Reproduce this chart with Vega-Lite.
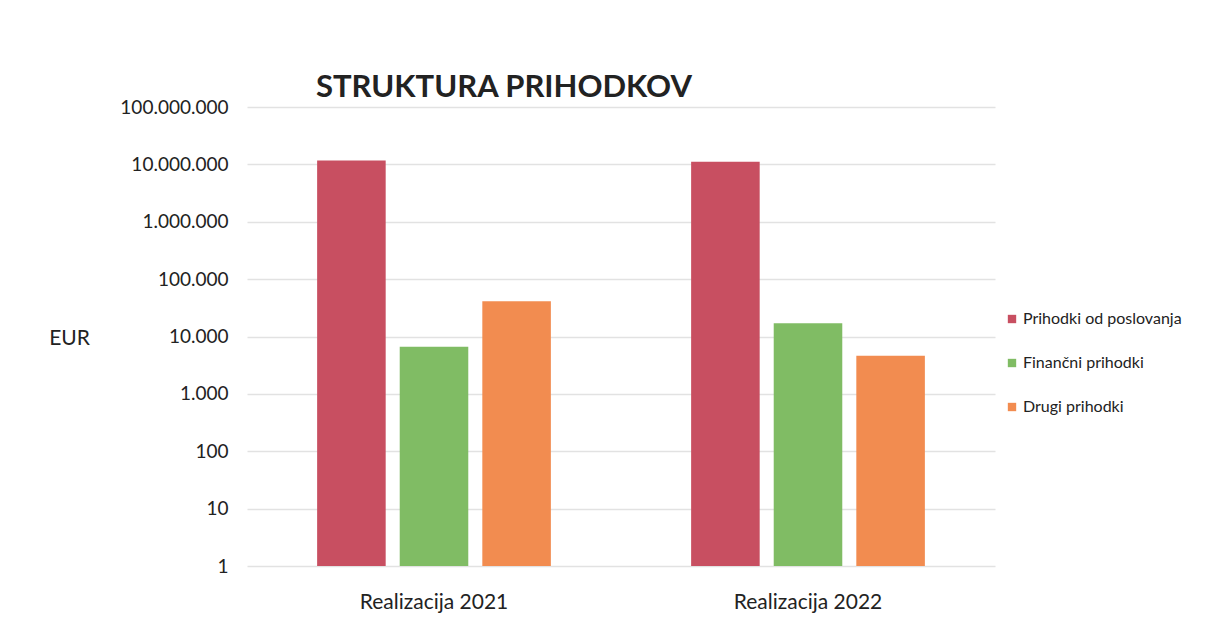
{
  "$schema": "https://vega.github.io/schema/vega-lite/v6.json",
  "autosize": "none",
  "width": 748,
  "height": 459,
  "padding": {"left": 247, "top": 107, "right": 228, "bottom": 56},
  "background": "white",
  "config": {
    "locale": {"number": {"decimal": ",", "thousands": ".", "grouping": [3], "currency": ["", " €"]}},
    "view": {"stroke": null},
    "font": "Lato"
  },
  "title": {
    "text": "STRUKTURA PRIHODKOV",
    "anchor": "start",
    "frame": "group",
    "dx": 69,
    "dy": 12,
    "fontSize": 31,
    "fontWeight": "bold",
    "font": "Lato",
    "color": "#222222",
    "offset": 6
  },
  "data": {
    "values": [
      {"leto": "Realizacija 2021", "vrsta": "Prihodki od poslovanja", "eur": 11700000},
      {"leto": "Realizacija 2021", "vrsta": "Finančni prihodki", "eur": 6600},
      {"leto": "Realizacija 2021", "vrsta": "Drugi prihodki", "eur": 41000},
      {"leto": "Realizacija 2022", "vrsta": "Prihodki od poslovanja", "eur": 11100000},
      {"leto": "Realizacija 2022", "vrsta": "Finančni prihodki", "eur": 17000},
      {"leto": "Realizacija 2022", "vrsta": "Drugi prihodki", "eur": 4600}
    ]
  },
  "mark": {"type": "bar"},
  "encoding": {
    "x": {
      "field": "leto",
      "type": "nominal",
      "scale": {"paddingInner": 0.375, "paddingOuter": 0.1875},
      "axis": {
        "title": null,
        "labelAngle": 0,
        "labelFontSize": 21,
        "labelColor": "#222222",
        "labelPadding": 25,
        "domain": false,
        "ticks": false
      }
    },
    "xOffset": {
      "field": "vrsta",
      "type": "nominal",
      "sort": ["Prihodki od poslovanja", "Finančni prihodki", "Drugi prihodki"],
      "scale": {"paddingInner": 0.17, "paddingOuter": 0}
    },
    "y": {
      "field": "eur",
      "type": "quantitative",
      "stack": null,
      "scale": {"type": "log", "domain": [1, 100000000], "nice": false},
      "axis": {
        "title": "EUR",
        "titleAngle": 0,
        "titleAlign": "center",
        "titleBaseline": "middle",
        "titleX": -178,
        "titleY": 231,
        "titleFontSize": 21,
        "titleFontWeight": "normal",
        "titleColor": "#222222",
        "values": [1, 10, 100, 1000, 10000, 100000, 1000000, 10000000, 100000000],
        "format": ",d",
        "labelFontSize": 19,
        "labelColor": "#222222",
        "labelPadding": 19,
        "domain": false,
        "ticks": false,
        "gridColor": "#e2e2e2",
        "gridWidth": 1.5
      }
    },
    "y2": {"datum": 1},
    "color": {
      "field": "vrsta",
      "type": "nominal",
      "sort": ["Prihodki od poslovanja", "Finančni prihodki", "Drugi prihodki"],
      "scale": {
        "domain": ["Prihodki od poslovanja", "Finančni prihodki", "Drugi prihodki"],
        "range": ["#C84F61", "#80BC64", "#F28C50"]
      },
      "legend": {
        "title": null,
        "orient": "none",
        "legendX": 757,
        "legendY": 204,
        "symbolType": "square",
        "symbolSize": 70,
        "symbolStrokeWidth": 0,
        "labelFontSize": 16,
        "labelColor": "#222222",
        "labelOffset": 3,
        "rowPadding": 28
      }
    }
  }
}
